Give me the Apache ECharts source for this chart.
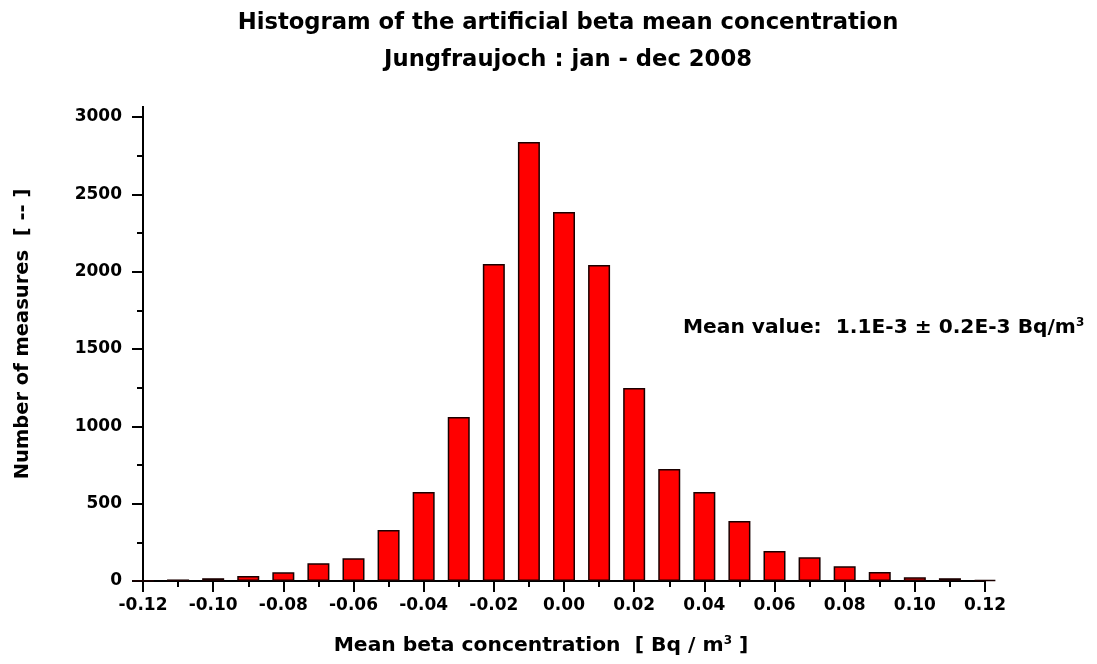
<!DOCTYPE html>
<html><head><meta charset="utf-8">
<script src="https://cdn.jsdelivr.net/npm/echarts@6/dist/echarts.min.js"></script>
<style>html,body{margin:0;padding:0;background:#fff}#c{width:1097px;height:664px}</style>
</head><body><div id="c"></div>
<script>
const binCenters = [-0.12,-0.11,-0.10,-0.09,-0.08,-0.07,-0.06,-0.05,-0.04,-0.03,-0.02,-0.01,0.00,0.01,0.02,0.03,0.04,0.05,0.06,0.07,0.08,0.09,0.10,0.11,0.12];
const counts =     [3,    10,   18,   32,   56,   115,  147,  330,  575,  1060, 2050, 2838, 2385, 2043, 1248, 724,  575,  388,  194,  153,  95,   58,   24,   18,   8];
const titleLines = ['Histogram of the artificial beta mean concentration','Jungfraujoch : jan - dec 2008'];

const FONT = '"DejaVu Sans", sans-serif';
const chart = echarts.init(document.getElementById('c'));
chart.setOption({
  animation:false,
  backgroundColor:'#fff',
  grid:{left:143,right:112,top:117,bottom:83,containLabel:false},
  xAxis:{type:'value',min:-0.12,max:0.12,interval:0.02,
    axisLine:{show:true,onZero:false,lineStyle:{color:'#000',width:2}},
    axisTick:{show:true,inside:false,length:11,lineStyle:{color:'#000',width:2}},
    minorTick:{show:true,splitNumber:2,length:6,lineStyle:{color:'#000',width:2}},
    splitLine:{show:false},
    axisLabel:{color:'#000',fontFamily:FONT,fontWeight:'bold',fontSize:17,margin:16,
      formatter:v=>v.toFixed(2)}
  },
  yAxis:{type:'value',min:0,max:3000,interval:500,
    axisLine:{show:true,onZero:false,lineStyle:{color:'#000',width:2}},
    axisTick:{show:true,inside:false,length:11,lineStyle:{color:'#000',width:2}},
    minorTick:{show:true,splitNumber:2,length:6,lineStyle:{color:'#000',width:2}},
    splitLine:{show:false},
    axisLabel:{color:'#000',fontFamily:FONT,fontWeight:'bold',fontSize:17,margin:21,
      formatter:v=>String(v)}
  },
  series:[{type:'bar',barWidth:22,
    data:binCenters.map((x,i)=>[x,counts[i]]),
    itemStyle:{color:'#ff0000',borderColor:'#1a0000',borderWidth:1.5}
  }],
  graphic:[
    {type:'line',shape:{x1:143,y1:118,x2:143,y2:106},style:{stroke:'#000',lineWidth:2}},
    {type:'text',x:568,y:23,style:{text:titleLines[0],font:'bold 22.7px '+FONT,fill:'#000',align:'center',verticalAlign:'middle'}},
    {type:'text',x:568,y:60,style:{text:titleLines[1],font:'bold 22.7px '+FONT,fill:'#000',align:'center',verticalAlign:'middle'}},
    {type:'text',x:23,y:334,rotation:Math.PI/2,style:{text:'Number of measures  [ -- ]',font:'bold 19.5px '+FONT,fill:'#000',align:'center',verticalAlign:'middle'}},
    {type:'text',x:541,y:646,style:{rich:{n:{font:'bold 20.3px '+FONT,fill:'#000'},s:{font:'bold 12px '+FONT,fill:'#000',padding:[0,0,10,0]}},text:'{n|Mean beta concentration  [ Bq / m}{s|3}{n| ]}',align:'center',verticalAlign:'middle'}},
    {type:'text',x:683,y:328,style:{rich:{n:{font:'bold 20.2px '+FONT,fill:'#000'},s:{font:'bold 12px '+FONT,fill:'#000',padding:[0,0,10,0]}},text:'{n|Mean value:  1.1E-3 ± 0.2E-3 Bq/m}{s|3}',align:'left',verticalAlign:'middle'}}
  ]
});
</script></body></html>
